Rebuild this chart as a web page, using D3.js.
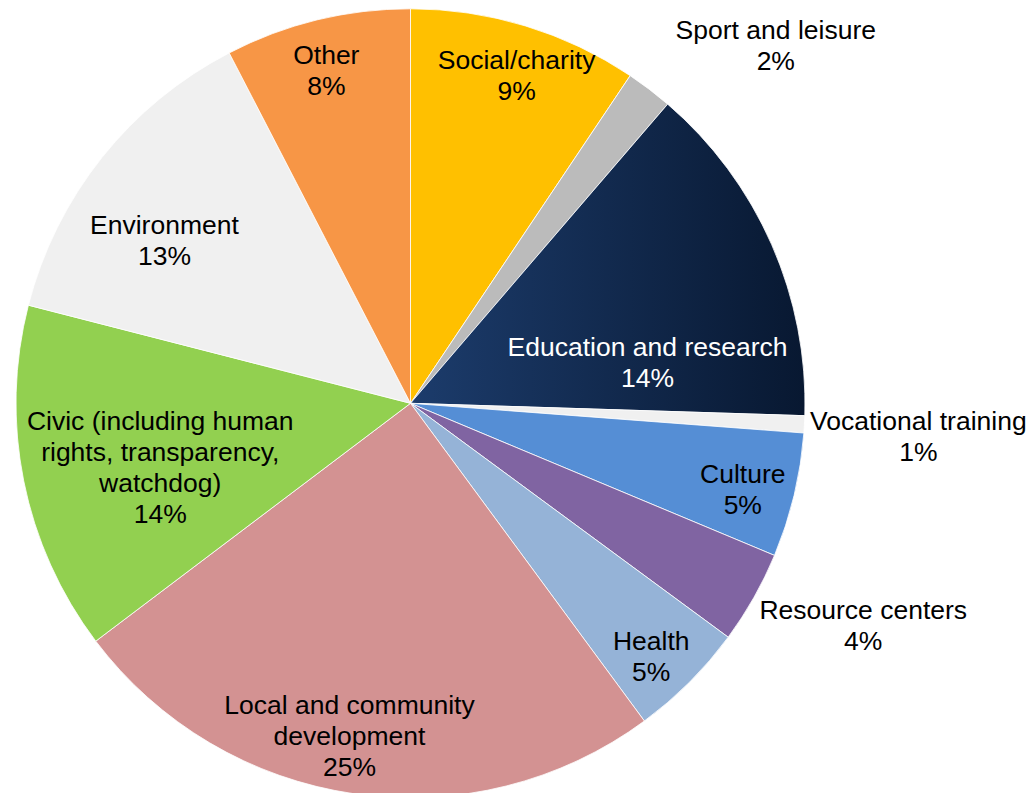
<!DOCTYPE html>
<html>
<head>
<meta charset="utf-8">
<script src="https://cdn.jsdelivr.net/npm/d3@7"></script>
<style>
  html, body { margin: 0; padding: 0; background: #fff; }
  svg { display: block; }
  text { font-family: "Liberation Sans", Arial, sans-serif; }
</style>
</head>
<body>
<svg id="chart" width="1033" height="793"></svg>
<script>
// ---- data ----
const categories = [
  "Social/charity",
  "Sport and leisure",
  "Education and research",
  "Vocational training",
  "Culture",
  "Resource centers",
  "Health",
  "Local and community development",
  "Civic (including human rights, transparency, watchdog)",
  "Environment",
  "Other"
];
const values = [9.4, 1.9, 14.2, 0.7, 5.1, 3.8, 4.8, 24.8, 14.3, 13.4, 7.6];
const pctLabels = ["9%", "2%", "14%", "1%", "5%", "4%", "5%", "25%", "14%", "13%", "8%"];
const labelLines = [
  ["Social/charity"],
  ["Sport and leisure"],
  ["Education and research"],
  ["Vocational training"],
  ["Culture"],
  ["Resource centers"],
  ["Health"],
  ["Local and community", "development"],
  ["Civic (including human", "rights, transparency,", "watchdog)"],
  ["Environment"],
  ["Other"]
];

// ---- styles / layout ----
const colors = ["#FFC000", "#BBBBBB", "url(#eduGrad)", "#F0F0F0", "#558ED5",
                "#8064A2", "#95B3D7", "#D39292", "#92D050", "#F0F0F0", "#F79646"];
const textColors = ["#000", "#000", "#fff", "#000", "#000", "#000", "#000", "#000", "#000", "#000", "#000"];
// label placement: [radius as fraction of pie radius, angle in degrees clockwise from top]
const labelPolar = [
  [0.875, 17.9], [1.296, 45.6], [0.61, 80.1], [1.29, 93.7], [0.87, 104.5],
  [1.278, 116.1], [0.885, 136.4], [0.857, 190.4], [0.655, 255.6], [0.748, 303.5], [0.87, 345.8]
];

const cx = 410.5, cy = 403.3, R = 394.5;
const fontSize = 26.5, lineH = 31;

const svg = d3.select("#chart");
const defs = svg.append("defs");
const g1 = defs.append("linearGradient").attr("id", "eduGrad")
  .attr("x1", "0%").attr("y1", "0%").attr("x2", "100%").attr("y2", "0%");
g1.append("stop").attr("offset", "0%").attr("stop-color", "#1C3C6C");
g1.append("stop").attr("offset", "100%").attr("stop-color", "#081831");

const pie = d3.pie().sort(null).value(d => d)
  .startAngle(0).endAngle(2 * Math.PI);
const arcs = pie(values);
const arc = d3.arc().innerRadius(0).outerRadius(R);

const g = svg.append("g").attr("transform", `translate(${cx},${cy})`);

g.selectAll("path.slice").data(arcs).enter().append("path")
  .attr("class", "slice")
  .attr("d", arc)
  .attr("fill", (d, i) => colors[i])
  .attr("stroke", "#fff")
  .attr("stroke-width", 0.8);

g.selectAll("text.lbl").data(arcs).enter().append("text")
  .attr("class", "lbl")
  .attr("text-anchor", "middle")
  .attr("font-size", fontSize)
  .attr("fill", (d, i) => textColors[i])
  .each(function (d, i) {
    const [rf, deg] = labelPolar[i];
    const a = deg * Math.PI / 180;
    const x = Math.sin(a) * rf * R;
    const y = -Math.cos(a) * rf * R;
    const lines = labelLines[i].concat([pctLabels[i]]);
    const n = lines.length;
    const t = d3.select(this);
    lines.forEach((ln, k) => {
      t.append("tspan")
        .attr("x", x)
        .attr("y", y + (k - (n - 1) / 2) * lineH)
        .attr("dy", "0.35em")
        .text(ln);
    });
  });
</script>
</body>
</html>
